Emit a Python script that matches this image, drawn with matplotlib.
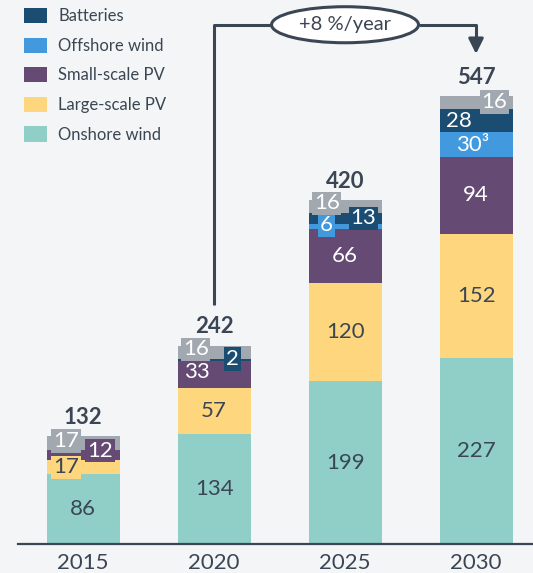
import matplotlib.pyplot as plt
from matplotlib.patches import Ellipse, Patch

plt.rcParams["font.family"] = ["Lato", "DejaVu Sans"]

years = ["2015", "2020", "2025", "2030"]
series = ["Onshore wind", "Large-scale PV", "Small-scale PV", "Offshore wind", "Batteries", "Other"]
onshore_wind = [86, 134, 199, 227]
large_pv = [17, 57, 120, 152]
small_pv = [12, 33, 66, 94]
offshore_wind = [0, 0, 6, 30]
batteries = [0, 2, 13, 28]
other = [17, 16, 16, 16]
totals = [132, 242, 420, 547]
growth_label = "+8 %/year"

values = [onshore_wind, large_pv, small_pv, offshore_wind, batteries, other]
colors = ["#90cec8", "#fed67d", "#654a74", "#4299dd", "#1b4d72", "#a1a8b0"]
text_cols = ["#3b4654", "#3b4654", "white", "white", "white", "white"]
dark = "#3b4654"
bg = "#f4f5f7"

# callouts for thin segments: (series idx, bar idx) -> (dx, dy, boxed)
callouts = {
    (1, 0): (-0.13, -1, True),
    (2, 0): (0.13, 5, True),
    (5, 0): (-0.13, 2.5, True),
    (2, 1): (-0.13, 2.5, False),
    (4, 1): (0.14, 1, True),
    (5, 1): (-0.14, 3.5, True),
    (3, 2): (-0.14, 1, True),
    (4, 2): (0.14, 0, True),
    (5, 2): (-0.14, 4, True),
    (4, 3): (-0.13, 0, False),
    (3, 3): (-0.03, -1, False),
    (5, 3): (0.14, 1, True),
}

fig = plt.figure(figsize=(5.33, 5.73), dpi=100, facecolor=bg)
ax = fig.add_axes([0, 29 / 573, 1, 544 / 573])
ax.set_facecolor(bg)

x = list(range(len(years)))
bottom = [0] * len(years)
for s, vals in enumerate(values):
    ax.bar(x, vals, bottom=bottom, width=0.557, color=colors[s], linewidth=0)
    for i, v in enumerate(vals):
        if v == 0:
            continue
        mid = bottom[i] + v / 2
        label = str(v)
        if s == 3 and i == 3:
            label = "30³"
        dx, dy, boxed = callouts.get((s, i), (0, 0, False))
        kw = {}
        if boxed:
            kw["bbox"] = dict(boxstyle="square,pad=0.08", fc=colors[s], ec="none")
        ax.text(i + dx, mid + dy, label, ha="center", va="center",
                fontsize=16, color=text_cols[s], **kw)
    bottom = [b + v for b, v in zip(bottom, vals)]

for i, t in enumerate(totals):
    ax.text(i, t + 23, str(t), ha="center", va="center", fontsize=16,
            fontweight="bold", color=dark)

# growth annotation
ax.plot([1, 1, 2 - 0.561], [292, 634, 634], color=dark, lw=2.2, solid_capstyle="butt")
ax.plot([2 + 0.561, 3, 3], [634, 634, 610], color=dark, lw=2.2, solid_capstyle="butt")
ax.annotate("", xy=(3, 595), xytext=(3, 612),
            arrowprops=dict(arrowstyle="-|>,head_length=0.9,head_width=0.45",
                            color=dark, lw=2.2))
ax.add_patch(Ellipse((2, 634), 1.122, 44, fc="white", ec=dark, lw=2.2, zorder=3))
ax.text(2, 634, growth_label, ha="center", va="center", fontsize=14.5, color=dark, zorder=4)

ax.set_xlim(-0.634, 3.435)
ax.set_ylim(0, 664.2)
ax.set_yticks([])
ax.set_xticks(x, years, fontsize=16, color=dark)
ax.tick_params(axis="x", length=0, pad=6.5)
for sp in ["top", "left", "right"]:
    ax.spines[sp].set_visible(False)
ax.spines["bottom"].set_color(dark)
ax.spines["bottom"].set_linewidth(1.6)
ax.spines["bottom"].set_bounds(-0.496, 3.435)

order = [4, 3, 2, 1, 0]
handles = [Patch(fc=colors[s], ec="none") for s in order]
ax.legend(handles, [series[s] for s in order], loc="upper left",
          bbox_to_anchor=(24 / 533, 1 - 8 / 573), bbox_transform=fig.transFigure,
          frameon=False, fontsize=12, handlelength=1.38, handleheight=1.02,
          labelspacing=0.8, handletextpad=0.66, borderpad=0, borderaxespad=0,
          labelcolor=dark)

fig.savefig("out.png", dpi=100, facecolor=bg)
